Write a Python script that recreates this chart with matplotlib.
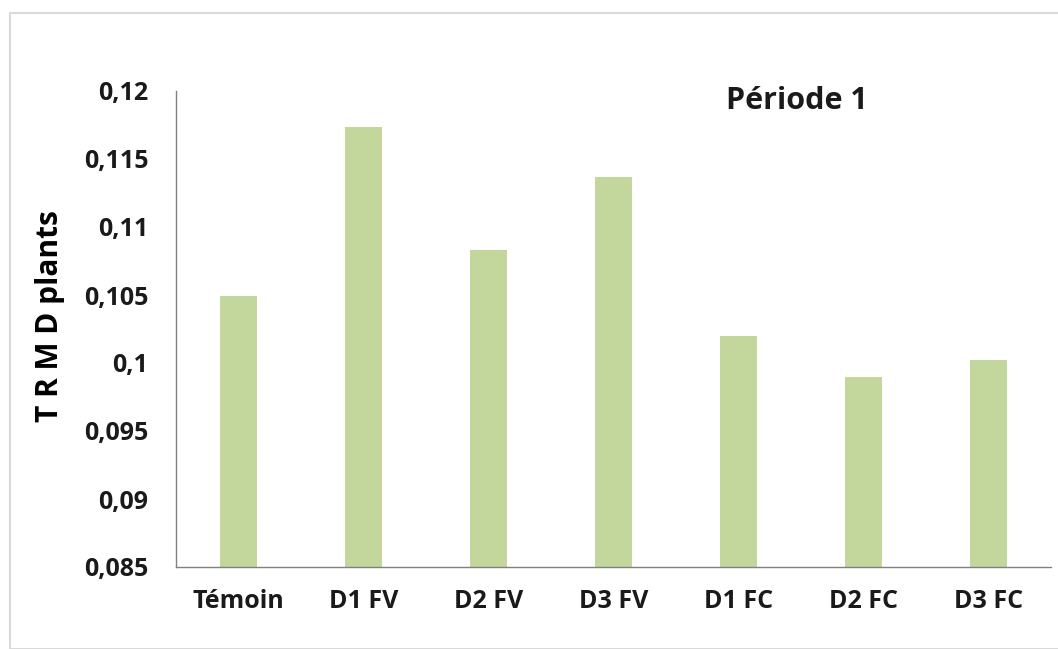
import matplotlib.pyplot as plt
from matplotlib.patches import Rectangle
from matplotlib.ticker import FuncFormatter

categories = ['Témoin', 'D1 FV', 'D2 FV', 'D3 FV', 'D1 FC', 'D2 FC', 'D3 FC']
values = [0.1049, 0.11735, 0.1083, 0.1137, 0.1020, 0.0990, 0.1002]
y_ticks = [0.085, 0.09, 0.095, 0.1, 0.105, 0.11, 0.115, 0.12]

plt.rcParams['font.family'] = ['Open Sans', 'DejaVu Sans']

fig = plt.figure(figsize=(10.58, 6.49), dpi=100)
# light grey frame around the chart area
fig.patches.append(Rectangle((10 / 1058, 0), 1.2, 1 - 13 / 649, transform=fig.transFigure,
                             fill=False, edgecolor='#d9d9d9', linewidth=1.5))

ax = fig.add_axes([176 / 1058, 1 - 567 / 649, 875 / 1058, 476 / 649])
x = range(len(categories))
ax.bar(x, values, width=0.3, color='#C3D69B')

ax.set_ylim(0.085, 0.12)
ax.set_xlim(-0.5, len(categories) - 0.5)
ax.set_yticks(y_ticks)
ax.yaxis.set_major_formatter(FuncFormatter(lambda v, p: ('%g' % round(v, 3)).replace('.', ',')))
ax.set_xticks(list(x))
ax.set_xticklabels(categories)
ax.tick_params(axis='both', length=0, labelsize=18, colors='#1a1a1a')
ax.tick_params(axis='x', pad=16)
ax.tick_params(axis='y', pad=20)
for lab in ax.get_xticklabels() + ax.get_yticklabels():
    lab.set_fontweight('bold')

for s in ['top', 'right']:
    ax.spines[s].set_visible(False)
for s in ['left', 'bottom']:
    ax.spines[s].set_color('#808080')
    ax.spines[s].set_linewidth(1)

ax.set_ylabel('T R M D plants', fontsize=21.5, fontweight='bold', va='center')
ax.yaxis.set_label_coords(-0.144, 0.528)
ax.text(0.710, 0.962, 'Période 1', transform=ax.transAxes, ha='center', va='baseline',
        fontsize=22, fontweight='bold', color='#1a1a1a')

fig.savefig('out.png', dpi=100)
